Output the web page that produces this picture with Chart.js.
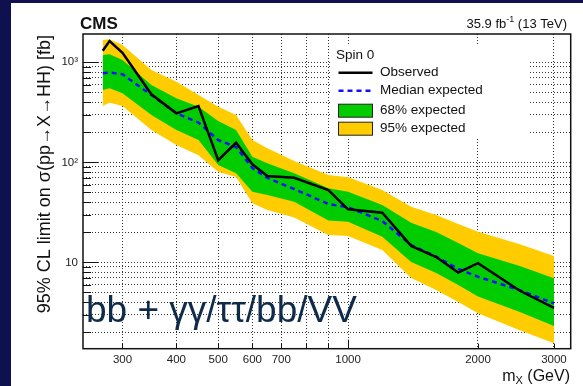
<!DOCTYPE html>
<html><head><meta charset="utf-8">
<script src="https://cdn.jsdelivr.net/npm/chart.js@4"></script>
<style>html,body{margin:0;padding:0;background:#0e1050;overflow:hidden}canvas{display:block}</style>
</head><body>
<canvas id="c" width="583" height="386" style="width:583px;height:386px"></canvas>
<script>
// ---- data ----
const masses     = [270, 280, 300, 350, 400, 450, 500, 550, 600, 650, 750, 900, 1000, 1200, 1400, 1600, 1800, 2000, 2500, 3000];
const observed   = [1306, 1633, 1247, 479, 309, 365, 105, 157, 95.5, 73, 70, 52.8, 33.9, 31.3, 14.6, 11.3, 7.9, 9.8, 5.2, 3.5];
const median     = [776, 791, 759, 471, 309, 250, 167, 142, 87.7, 69.7, 54.1, 38.3, 35.5, 25.9, 14.9, 11.4, 8.6, 7.18, 5.28, 3.89];
const band68Up   = [1183, 1202, 1054, 593, 437, 360, 259, 210, 114, 97.7, 77.6, 55, 50.8, 37.4, 24.9, 20.1, 15.6, 12.3, 9.18, 6.92];
const band68Down = [528, 550, 490, 297, 210, 167, 94, 77.6, 50.8, 47.1, 40.4, 26.2, 25.5, 18.0, 10.1, 7.82, 5.93, 4.55, 3.18, 2.31];
const band95Up   = [1671, 1698, 1489, 838, 640, 471, 360, 297, 167, 138, 103, 74.6, 70.8, 52.8, 36, 29.7, 24.2, 20.2, 15.2, 11.6];
const band95Down = [366, 394, 366, 210, 149, 118, 80.5, 71.3, 38.9, 33.3, 28.1, 18.8, 18.3, 13.3, 6.97, 5.28, 4.01, 3.09, 2.10, 1.55];

const xTickValues = [300, 400, 500, 600, 700, 800, 900, 1000, 2000, 3000];
const xTickLabels = {300:'300', 400:'400', 500:'500', 600:'600', 700:'700', 1000:'1000', 2000:'2000', 3000:'3000'};
const yTickValues = [2,3,4,5,6,7,8,9,10,20,30,40,50,60,70,80,90,100,200,300,400,500,600,700,800,900,1000];
const yTickLabels = {10:'10', 100:'10\u00B2', 1000:'10\u00B3'};

const legendEntries = ['Observed', 'Median expected', '68% expected', '95% expected'];
const legendHeader = 'Spin 0';
const cmsLabel = 'CMS';
const channelLabel = 'bb + \u03B3\u03B3/\u03C4\u03C4/bb/VV';
const yTitle = '95% CL limit on \u03C3(pp\u2192X\u2192HH) [fb]';

// ---- style ----
const FONT = "'Liberation Sans', Arial, Helvetica, sans-serif";
const NAVY = '#0e1050';
const GREEN = '#00cc00';
const YELLOW = '#ffcc00';
const BLUE = '#1010ff';

const pts = arr => masses.map((m, i) => ({x: m, y: arr[i]}));

const deco = {
  id: 'deco',
  beforeDraw(chart) {
    const c = chart.ctx;
    c.save();
    c.fillStyle = NAVY; c.fillRect(0, 0, 583, 386);
    c.fillStyle = '#fff'; c.fillRect(11, 3, 572, 383);
    c.restore();
  },
  beforeDatasetsDraw(chart) {
    const c = chart.ctx;
    c.save();
    c.fillStyle = '#fff'; c.fillRect(330, 45, 198, 92);
    c.restore();
  },
  afterDraw(chart) {
    const c = chart.ctx;
    const a = chart.chartArea;
    const xs = chart.scales.x, ys = chart.scales.y;
    c.save();
    // inner ticks
    c.strokeStyle = '#111'; c.lineWidth = 1;
    yTickValues.forEach(v => {
      const p = Math.round(ys.getPixelForValue(v)) + 0.5;
      const len = yTickLabels[v] ? 15 : 8;
      c.beginPath(); c.moveTo(a.left, p); c.lineTo(a.left + len, p); c.stroke();
    });
    xTickValues.forEach(v => {
      const p = Math.round(xs.getPixelForValue(v)) + 0.5;
      const len = (v === 1000) ? 9 : 5;
      c.beginPath(); c.moveTo(p, a.bottom); c.lineTo(p, a.bottom - len); c.stroke();
    });
    // frame
    c.lineWidth = 1.5; c.strokeStyle = '#111';
    c.strokeRect(a.left, a.top, a.right - a.left, a.bottom - a.top);

    // CMS label
    c.fillStyle = '#111';
    c.font = 'bold 17px ' + FONT; c.textAlign = 'left'; c.textBaseline = 'alphabetic';
    c.fillText(cmsLabel, 80, 28.5);

    // lumi label right aligned
    const big = '13px ' + FONT, small = '9px ' + FONT;
    const p1 = '35.9 fb', p2 = '-1', p3 = ' (13 TeV)';
    c.font = big; const w1 = c.measureText(p1).width, w3 = c.measureText(p3).width;
    c.font = small; const w2 = c.measureText(p2).width;
    let x0 = 567 - (w1 + w2 + w3);
    c.font = big; c.fillText(p1, x0, 27.5);
    c.font = small; c.fillText(p2, x0 + w1, 22);
    c.font = big; c.fillText(p3, x0 + w1 + w2, 27.5);

    // y title
    c.save();
    c.translate(45, 35); c.rotate(-Math.PI / 2);
    c.font = '18px ' + FONT; c.textAlign = 'right'; c.textBaseline = 'middle';
    c.fillStyle = '#111';
    c.fillText(yTitle, 0, 0);
    c.restore();

    // x title m_X (GeV)
    const fm = '16px ' + FONT, fs = '11px ' + FONT;
    c.font = fm; const wm = c.measureText('m').width, wg = c.measureText(' (GeV)').width;
    c.font = fs; const wx = c.measureText('X').width;
    x0 = 570 - (wm + wx + wg);
    c.textAlign = 'left'; c.textBaseline = 'alphabetic';
    c.font = fm; c.fillText('m', x0, 381);
    c.font = fs; c.fillText('X', x0 + wm, 384);
    c.font = fm; c.fillText(' (GeV)', x0 + wm + wx, 381);

    // channel label
    c.fillStyle = '#0f2b4a';
    c.font = '40px ' + FONT;
    let tw = c.measureText(channelLabel).width;
    const fsz = 40 * 271 / tw;
    c.font = fsz.toFixed(1) + 'px ' + FONT;
    c.fillText(channelLabel, 86, 321.5);

    // legend
    c.fillStyle = '#111';
    c.font = '13.5px ' + FONT; c.textBaseline = 'middle';
    c.fillText(legendHeader, 336, 55);
    const lx0 = 338.5, lx1 = 372.5, tx = 380;
    const rows = [72.7, 90.7, 110.7, 128.7];
    c.lineWidth = 2.5; c.strokeStyle = '#000'; c.setLineDash([]);
    c.beginPath(); c.moveTo(lx0, rows[0]); c.lineTo(lx1, rows[0]); c.stroke();
    c.strokeStyle = BLUE; c.setLineDash([5, 4]);
    c.beginPath(); c.moveTo(lx0, rows[1]); c.lineTo(lx1, rows[1]); c.stroke();
    c.setLineDash([]);
    c.lineWidth = 1; c.strokeStyle = '#222';
    c.fillStyle = GREEN; c.fillRect(lx0, rows[2] - 6.5, lx1 - lx0, 13);
    c.strokeRect(lx0, rows[2] - 6.5, lx1 - lx0, 13);
    c.fillStyle = YELLOW; c.fillRect(lx0, rows[3] - 6.5, lx1 - lx0, 13);
    c.strokeRect(lx0, rows[3] - 6.5, lx1 - lx0, 13);
    c.fillStyle = '#111';
    legendEntries.forEach((t, i) => c.fillText(t, tx, rows[i]));
    c.restore();
  }
};

const bandLine = {borderWidth: 0, borderColor: 'rgba(0,0,0,0)', pointRadius: 0, tension: 0};

new Chart(document.getElementById('c'), {
  type: 'line',
  data: {
    datasets: [
      {label: legendEntries[0], data: pts(observed), borderColor: '#000', borderWidth: 2.5, pointRadius: 0, fill: false, tension: 0},
      {label: legendEntries[1], data: pts(median), borderColor: BLUE, borderWidth: 2.5, borderDash: [5, 4], pointRadius: 0, fill: false, tension: 0},
      Object.assign({label: '68up', data: pts(band68Up), fill: '+1', backgroundColor: GREEN}, bandLine),
      Object.assign({label: '68down', data: pts(band68Down), fill: false}, bandLine),
      Object.assign({label: '95up', data: pts(band95Up), fill: '+1', backgroundColor: YELLOW}, bandLine),
      Object.assign({label: '95down', data: pts(band95Down), fill: false}, bandLine)
    ]
  },
  options: {
    responsive: false,
    animation: false,
    events: [],
    layout: {padding: {left: 0, top: 34, right: 12.3, bottom: 0}},
    plugins: {legend: {display: false}, tooltip: {enabled: false}},
    scales: {
      x: {
        type: 'logarithmic', min: 243, max: 3280,
        afterBuildTicks: s => { s.ticks = xTickValues.map(v => ({value: v})); },
        afterFit: s => { s.height = 37.3; },
        ticks: {autoSkip: false, maxRotation: 0, padding: 4, color: '#222',
                font: {family: FONT, size: 11.5},
                callback: v => xTickLabels[v] || ''},
        grid: {color: '#333', lineWidth: 1, drawTicks: false},
        border: {display: false, dash: [1, 2]}
      },
      y: {
        type: 'logarithmic', min: 1.37, max: 1919,
        afterBuildTicks: s => { s.ticks = yTickValues.map(v => ({value: v})); },
        afterFit: s => { s.width = 83; },
        ticks: {autoSkip: false, padding: 5, color: '#222',
                font: {family: FONT, size: 11.5},
                callback: v => yTickLabels[v] || ''},
        grid: {color: '#333', lineWidth: 1, drawTicks: false},
        border: {display: false, dash: [1, 2]}
      }
    }
  },
  plugins: [deco]
});
</script>
</body></html>
